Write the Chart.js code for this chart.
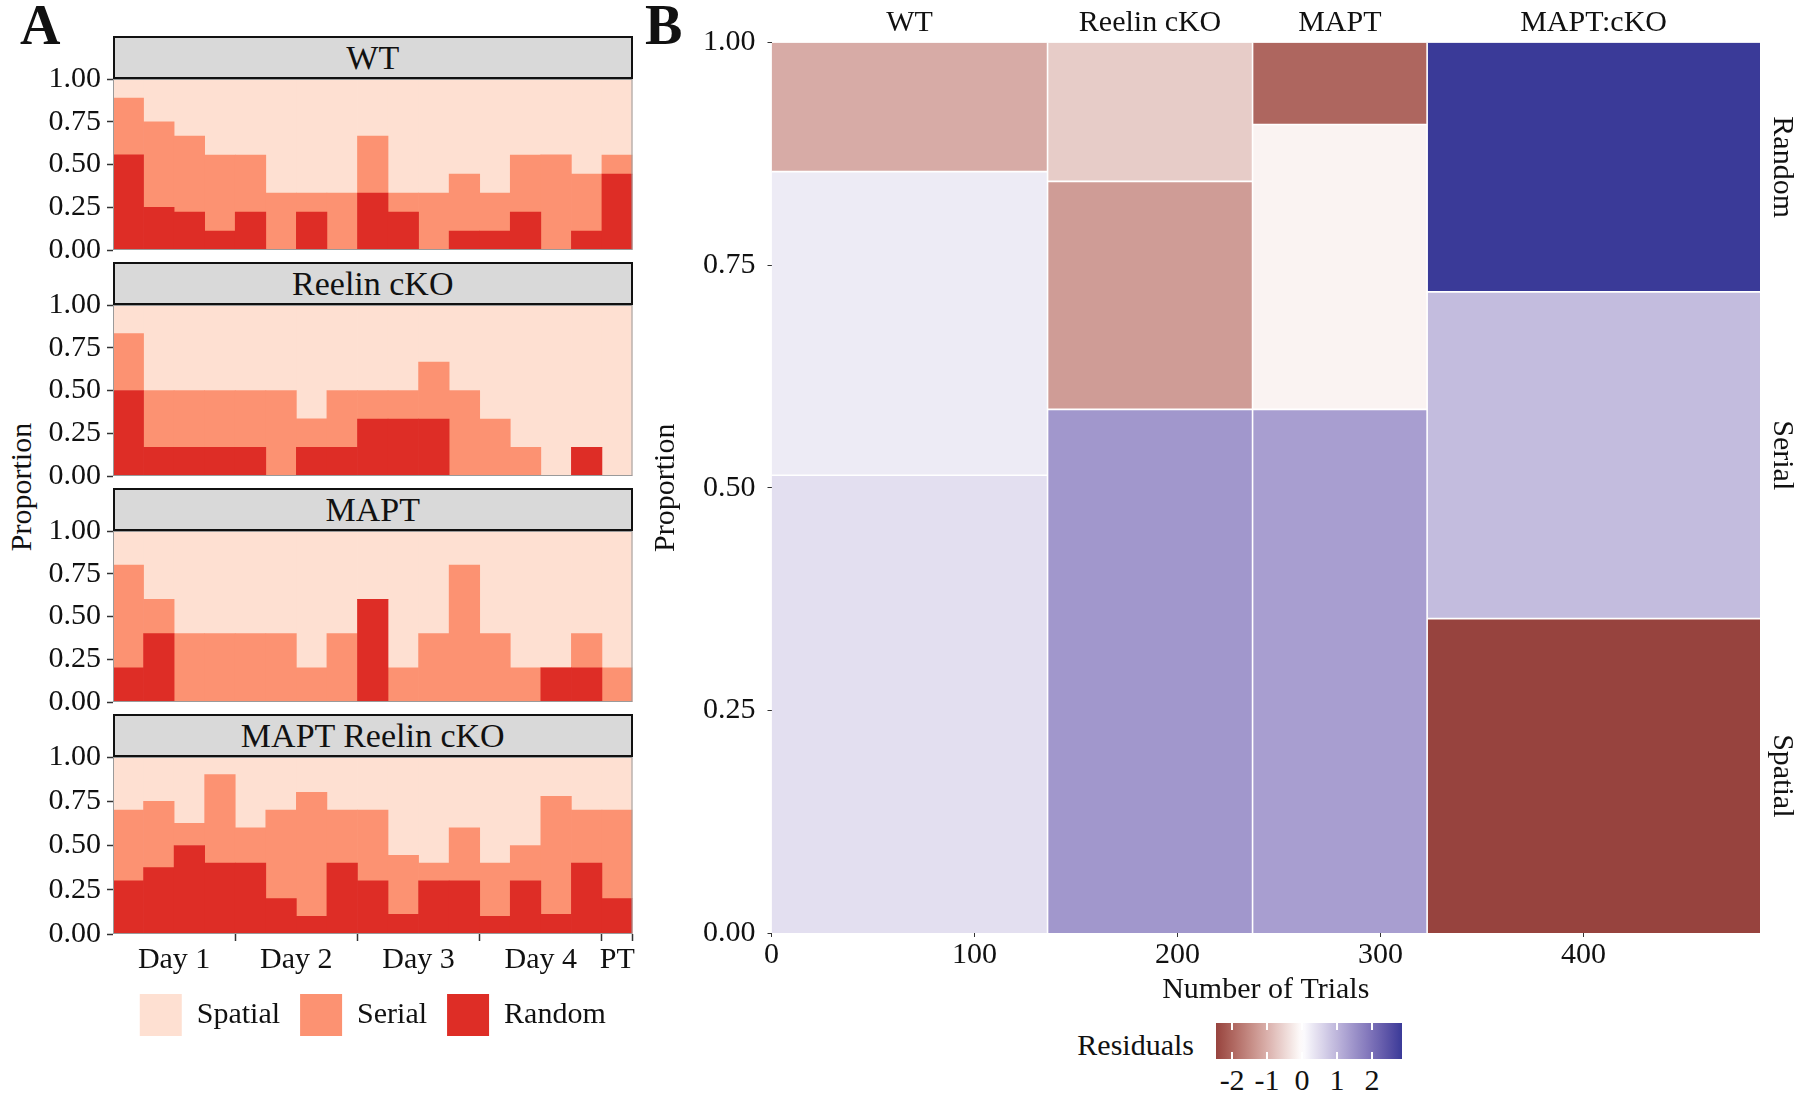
<!DOCTYPE html>
<html>
<head>
<meta charset="utf-8">
<script src="https://cdn.jsdelivr.net/npm/chart.js@4.4.1/dist/chart.umd.min.js"></script>
<style>
html,body{margin:0;padding:0;background:#fff;}
body{width:1800px;height:1095px;position:relative;overflow:hidden;font-family:"Liberation Serif","Times New Roman",serif;color:#111;}
canvas{position:absolute;}
.strip{position:absolute;box-sizing:border-box;background:#d9d9d9;border:2px solid #111;font-size:34px;display:flex;align-items:center;justify-content:center;line-height:1;}
.letter{position:absolute;font-weight:bold;font-size:56px;line-height:1;}
.txt{position:absolute;font-size:30px;line-height:1;white-space:nowrap;}
</style>
</head>
<body>
<div class="letter" style="left:20px;top:-3px;">A</div>
<div class="letter" style="left:645px;top:-3px;">B</div>
<div class="txt" style="left:21px;top:487px;transform:translate(-50%,-50%) rotate(-90deg);">Proportion</div>
<div id="cbar"></div>
<script>
// ---------------- Panel A data ----------------
const trialLabels = ['D1-1','D1-2','D1-3','D1-4','D2-1','D2-2','D2-3','D2-4','D3-1','D3-2','D3-3','D3-4','D4-1','D4-2','D4-3','D4-4','PT'];
const dayLabels = ['Day 1','Day 2','Day 3','Day 4','PT'];
const trialsPerDay = [4,4,4,4,1];
const facetNames = ['WT','Reelin cKO','MAPT','MAPT Reelin cKO'];
const strategyNames = ['Spatial','Serial','Random'];
const yTicksA = [0,0.25,0.5,0.75,1];

const wtRandom  = [0.556,0.25,0.222,0.111,0.222,0,0.222,0,0.333,0.222,0,0.111,0.111,0.222,0,0.111,0.444];
const wtSerial  = [0.333,0.5,0.444,0.444,0.333,0.333,0.111,0.333,0.333,0.111,0.333,0.333,0.222,0.333,0.556,0.333,0.111];
const wtSpatial = [0.111,0.25,0.333,0.444,0.444,0.667,0.667,0.667,0.333,0.667,0.667,0.556,0.667,0.444,0.444,0.556,0.444];

const reelinRandom  = [0.5,0.167,0.167,0.167,0.167,0,0.167,0.167,0.333,0.333,0.333,0,0,0,0,0.167,0];
const reelinSerial  = [0.333,0.333,0.333,0.333,0.333,0.5,0.167,0.333,0.167,0.167,0.333,0.5,0.333,0.167,0,0,0];
const reelinSpatial = [0.167,0.5,0.5,0.5,0.5,0.5,0.667,0.5,0.5,0.5,0.333,0.5,0.667,0.833,1,0.833,1];

const maptRandom  = [0.2,0.4,0,0,0,0,0,0,0.6,0,0,0,0,0,0.2,0.2,0];
const maptSerial  = [0.6,0.2,0.4,0.4,0.4,0.4,0.2,0.4,0,0.2,0.4,0.8,0.4,0.2,0,0.2,0.2];
const maptSpatial = [0.2,0.4,0.6,0.6,0.6,0.6,0.8,0.6,0.4,0.8,0.6,0.2,0.6,0.8,0.8,0.6,0.8];

const dkoRandom  = [0.3,0.375,0.5,0.4,0.4,0.2,0.1,0.4,0.3,0.111,0.3,0.3,0.1,0.3,0.111,0.4,0.2];
const dkoSerial  = [0.4,0.375,0.125,0.5,0.2,0.5,0.7,0.3,0.4,0.333,0.1,0.3,0.3,0.2,0.667,0.3,0.5];
const dkoSpatial = [0.3,0.25,0.375,0.1,0.4,0.3,0.2,0.3,0.3,0.556,0.6,0.4,0.6,0.5,0.222,0.3,0.3];

// ---------------- Panel B data ----------------
const mosaicGroups  = ['WT','Reelin cKO','MAPT','MAPT:cKO'];
const mosaicTrials  = [136,101,86,164];
const mosaicSpatial = [0.514,0.588,0.588,0.353];
const mosaicSerial  = [0.341,0.256,0.320,0.367];
const mosaicRandom  = [0.145,0.156,0.092,0.280];
const residSpatial  = [0.43,1.43,1.32,-2.47];
const residSerial   = [0.27,-1.27,-0.15,0.91];
const residRandom   = [-1.07,-0.65,-2.0,2.86];
const xTicksB = [0,100,200,300,400];
const yTicksB = [0,0.25,0.5,0.75,1];
const residTicks = [-2,-1,0,1,2];

// ---------------- common ----------------
const FONT = 'Liberation Serif';
Chart.defaults.font.family = FONT;
Chart.defaults.color = '#111';
Chart.defaults.animation = false;

const COL = {Random:'#de2d26', Serial:'#fc9272', Spatial:'#fee0d2'};

const panelBorder = {
  id:'panelBorder',
  afterDatasetsDraw(chart){
    const a = chart.chartArea, ctx = chart.ctx;
    ctx.save(); ctx.strokeStyle='#9a9a9a'; ctx.lineWidth=1;
    ctx.strokeRect(a.left+0.5, a.top+0.5, a.right-a.left-1, a.bottom-a.top-1);
    ctx.restore();
  }
};

function cumsum(arr){ let s=0; return arr.map(v=>(s+=v)); }

const facetData = [
  {name:facetNames[0], random:wtRandom, serial:wtSerial, spatial:wtSpatial},
  {name:facetNames[1], random:reelinRandom, serial:reelinSerial, spatial:reelinSpatial},
  {name:facetNames[2], random:maptRandom, serial:maptSerial, spatial:maptSpatial},
  {name:facetNames[3], random:dkoRandom, serial:dkoSerial, spatial:dkoSpatial}
];

facetData.forEach((f,i)=>{
  const top = Math.round(36 + 226.1*i);
  const isBottom = i === facetData.length-1;
  const h = isBottom ? 352 : 238;
  const cv = document.createElement('canvas');
  cv.width = 640; cv.height = h;
  cv.style.left = '0px'; cv.style.top = top+'px';
  cv.style.width = '640px'; cv.style.height = h+'px';
  document.body.appendChild(cv);
  const strip = document.createElement('div');
  strip.className = 'strip';
  strip.textContent = f.name;
  strip.style.cssText = `left:113px;top:${top}px;width:519.5px;height:43px;`;
  document.body.appendChild(strip);

  const mk = (label, data) => ({label, data, backgroundColor:COL[label], borderWidth:0, barPercentage:1, categoryPercentage:1, stack:'s'});
  const scales = {
    x:{type:'category', stacked:true, display:false},
    y:{type:'linear', stacked:true, min:0, max:1,
       afterBuildTicks:a=>{ a.ticks = yTicksA.map(v=>({value:v})); },
       afterFit:a=>{ a.width = 113; },
       ticks:{callback:v=>Number(v).toFixed(2), padding:6, font:{family:FONT,size:30}, color:'#111'},
       grid:{display:true, drawOnChartArea:false, tickLength:6, tickWidth:1.5, tickColor:'#333'},
       border:{display:false}}
  };
  if (isBottom){
    const ends = cumsum(trialsPerDay).map(v=>v+0.5);
    const starts = [0.5].concat(ends.slice(0,-1));
    const centers = starts.map((s,k)=>(s+ends[k])/2);
    scales.xt = {type:'linear', position:'bottom', offset:false, min:0.5, max:trialLabels.length+0.5,
       afterBuildTicks:a=>{ a.ticks = ends.map(v=>({value:v})); },
       ticks:{display:false},
       grid:{display:true, offset:false, drawOnChartArea:false, tickLength:7, tickWidth:1.5, tickColor:'#333'},
       border:{display:false}};
    scales.xl = {type:'linear', position:'bottom', offset:false, min:0.5, max:trialLabels.length+0.5,
       afterBuildTicks:a=>{ a.ticks = centers.map(v=>({value:v})); },
       afterFit:a=>{ a.height = 33; },
       ticks:{callback:(v,k)=>dayLabels[k], autoSkip:false, maxRotation:0, padding:1, font:{family:FONT,size:30}, color:'#111'},
       grid:{display:false, offset:false, drawTicks:false},
       border:{display:false}};
  }
  new Chart(cv, {
    type:'bar',
    data:{labels:trialLabels, datasets:[mk('Random',f.random), mk('Serial',f.serial), mk('Spatial',f.spatial)]},
    options:{
      responsive:false, devicePixelRatio:1, animation:false, events:[],
      layout:{padding:{top:43, right:7.5, bottom:isBottom?20:18, left:0}},
      scales,
      plugins:{
        tooltip:{enabled:false},
        legend:{display:isBottom, position:'bottom', fullSize:false, reverse:true,
          labels:{boxWidth:42, boxHeight:42, padding:20, font:{family:FONT,size:30}, color:'#111'}}
      }
    },
    plugins:[panelBorder]
  });
});

// ---------------- Panel B ----------------
const allResid = residSpatial.concat(residSerial, residRandom);
const residMin = Math.min(...allResid), residMax = Math.max(...allResid);
const maxAbs = Math.max(Math.abs(residMin), Math.abs(residMax));

// diverging palette (white mid, muted red low, muted blue high), interpolated in CIELab
function srgb2lin(c){ c/=255; return c<=0.04045? c/12.92 : Math.pow((c+0.055)/1.055,2.4); }
function lin2srgb(c){ const v = c<=0.0031308? 12.92*c : 1.055*Math.pow(c,1/2.4)-0.055; return Math.max(0,Math.min(255,Math.round(v*255))); }
const WP=[0.95047,1,1.08883];
function rgb2lab(rgb){
  const [r,g,b]=rgb.map(srgb2lin);
  const X=(0.4124*r+0.3576*g+0.1805*b)/WP[0], Y=(0.2126*r+0.7152*g+0.0722*b)/WP[1], Z=(0.0193*r+0.1192*g+0.9505*b)/WP[2];
  const f=t=>t>0.008856? Math.cbrt(t) : 7.787*t+16/116;
  const fx=f(X),fy=f(Y),fz=f(Z);
  return [116*fy-16, 500*(fx-fy), 200*(fy-fz)];
}
function lab2rgb(lab){
  const fy=(lab[0]+16)/116, fx=fy+lab[1]/500, fz=fy-lab[2]/200;
  const inv=t=>t*t*t>0.008856? t*t*t : (t-16/116)/7.787;
  const X=inv(fx)*WP[0], Y=inv(fy)*WP[1], Z=inv(fz)*WP[2];
  const r= 3.2406*X-1.5372*Y-0.4986*Z, g=-0.9689*X+1.8758*Y+0.0415*Z, b=0.0557*X-0.2040*Y+1.0570*Z;
  return [lin2srgb(r),lin2srgb(g),lin2srgb(b)];
}
const LAB_W = rgb2lab([255,255,255]), LAB_LO = rgb2lab([131,36,36]), LAB_HI = rgb2lab([58,58,152]);
function residColor(r){
  const t = Math.min(1, Math.abs(r)/maxAbs);
  const end = r < 0 ? LAB_LO : LAB_HI;
  const c = lab2rgb(LAB_W.map((w,k)=>w + (end[k]-w)*t));
  return `rgb(${c[0]},${c[1]},${c[2]})`;
}

const totalTrials = mosaicTrials.reduce((a,b)=>a+b,0);
const colStarts = [0].concat(cumsum(mosaicTrials).slice(0,-1));
const colEnds = cumsum(mosaicTrials);
const colCenters = colStarts.map((s,k)=>(s+colEnds[k])/2);

const cellSets = [], sepSets = [];
mosaicGroups.forEach((g,i)=>{
  const x0 = colStarts[i], x1 = colEnds[i];
  const parts = [[mosaicSpatial[i],residSpatial[i]],[mosaicSerial[i],residSerial[i]],[mosaicRandom[i],residRandom[i]]];
  let y0 = 0;
  parts.forEach(([p,r],k)=>{
    const y1 = y0 + p;
    cellSets.push({label:g+' '+strategyNames[k], data:[{x:x0,y:y1},{x:x1,y:y1}], fill:{value:y0},
      backgroundColor:residColor(r), borderColor:'rgba(0,0,0,0)', borderWidth:0, pointRadius:0, order:1});
    if (k < parts.length-1) sepSets.push({data:[{x:x0,y:y1},{x:x1,y:y1}], borderColor:'#ffffff', borderWidth:1.6, pointRadius:0, fill:false, order:0});
    y0 = y1;
  });
  if (i < mosaicGroups.length-1) sepSets.push({data:[{x:x1,y:0},{x:x1,y:1}], borderColor:'#ffffff', borderWidth:1.6, pointRadius:0, fill:false, order:0});
});

const lastI = mosaicGroups.length-1;
const lastParts = [mosaicSpatial[lastI], mosaicSerial[lastI], mosaicRandom[lastI]];
const lastEnds = cumsum(lastParts);
const rightCenters = lastEnds.map((e,k)=>e - lastParts[k]/2);

const cvB = document.createElement('canvas');
cvB.width = 1160; cvB.height = 1010;
cvB.style.left = '640px'; cvB.style.top = '0px'; cvB.style.width='1160px'; cvB.style.height='1010px';
document.body.appendChild(cvB);

new Chart(cvB, {
  type:'line',
  data:{datasets:cellSets.concat(sepSets)},
  options:{
    responsive:false, devicePixelRatio:1, animation:false, events:[],
    layout:{padding:{top:0,right:0,bottom:2,left:0}},
    elements:{line:{tension:0}, point:{radius:0}},
    scales:{
      x:{type:'linear', position:'bottom', min:0, max:totalTrials,
        afterBuildTicks:a=>{ a.ticks = xTicksB.map(v=>({value:v})); },
        afterFit:a=>{ a.height = 75; },
        ticks:{callback:v=>String(v), autoSkip:false, maxRotation:0, padding:0, font:{family:FONT,size:30}, color:'#111'},
        grid:{display:true, drawOnChartArea:false, tickLength:4, tickWidth:1, tickColor:'#333'},
        border:{display:false},
        title:{display:true, text:'Number of Trials', font:{family:FONT,size:30}, color:'#111', padding:{top:0,bottom:0}}},
      xTop:{type:'linear', position:'top', min:0, max:totalTrials,
        afterBuildTicks:a=>{ a.ticks = colCenters.map(v=>({value:v})); },
        afterFit:a=>{ a.height = 42.5; },
        ticks:{callback:(v,k)=>mosaicGroups[k], autoSkip:false, maxRotation:0, padding:1.5, font:{family:FONT,size:30}, color:'#111'},
        grid:{display:false, drawTicks:false},
        border:{display:false}},
      y:{type:'linear', position:'left', min:0, max:1,
        afterBuildTicks:a=>{ a.ticks = yTicksB.map(v=>({value:v})); },
        afterFit:a=>{ a.width = 131.5; },
        ticks:{callback:v=>Number(v).toFixed(2), padding:12, font:{family:FONT,size:30}, color:'#111'},
        grid:{display:true, drawOnChartArea:false, tickLength:4, tickWidth:1, tickColor:'#333'},
        border:{display:false},
        title:{display:true, text:'Proportion', font:{family:FONT,size:30}, color:'#111', padding:{top:8,bottom:0}}},
      yRight:{type:'linear', position:'right', min:0, max:1,
        afterBuildTicks:a=>{ a.ticks = rightCenters.map(v=>({value:v})); },
        afterFit:a=>{ a.width = 40; },
        ticks:{callback:(v,k)=>strategyNames[k], autoSkip:false, minRotation:-90, maxRotation:-90, crossAlign:'center', padding:-29, font:{family:FONT,size:30}, color:'#111'},
        grid:{display:false, drawTicks:false},
        border:{display:false}}
    },
    plugins:{legend:{display:false}, tooltip:{enabled:false}}
  }
});

// ---------------- Residuals colour bar ----------------
(function(){
  const host = document.getElementById('cbar');
  const L = 1215.7, T = 1023, W = 186.3, H = 36;
  const stops = [];
  for (let k=0;k<=40;k++){
    const v = residMin + (residMax-residMin)*k/40;
    stops.push(`${residColor(v)} ${(k*2.5).toFixed(1)}%`);
  }
  const bar = document.createElement('div');
  bar.style.cssText = `position:absolute;left:${L}px;top:${T}px;width:${W}px;height:${H}px;background:linear-gradient(to right, ${stops.join(',')});`;
  host.appendChild(bar);
  const title = document.createElement('div');
  title.className = 'txt';
  title.textContent = 'Residuals';
  title.style.cssText = `right:${1800-1194}px;top:1045px;transform:translateY(-50%);`;
  host.appendChild(title);
  residTicks.forEach(v=>{
    const x = L + (v-residMin)/(residMax-residMin)*W;
    ['top','bottom'].forEach(side=>{
      const m = document.createElement('div');
      m.style.cssText = `position:absolute;left:${x-0.75}px;top:${side==='top'?T:(T+H-7)}px;width:1.5px;height:7px;background:#fff;`;
      host.appendChild(m);
    });
    const lab = document.createElement('div');
    lab.className = 'txt';
    lab.textContent = String(v);
    lab.style.cssText = `left:${x}px;top:1080px;transform:translate(-50%,-50%);`;
    host.appendChild(lab);
  });
})();
</script>
</body>
</html>
